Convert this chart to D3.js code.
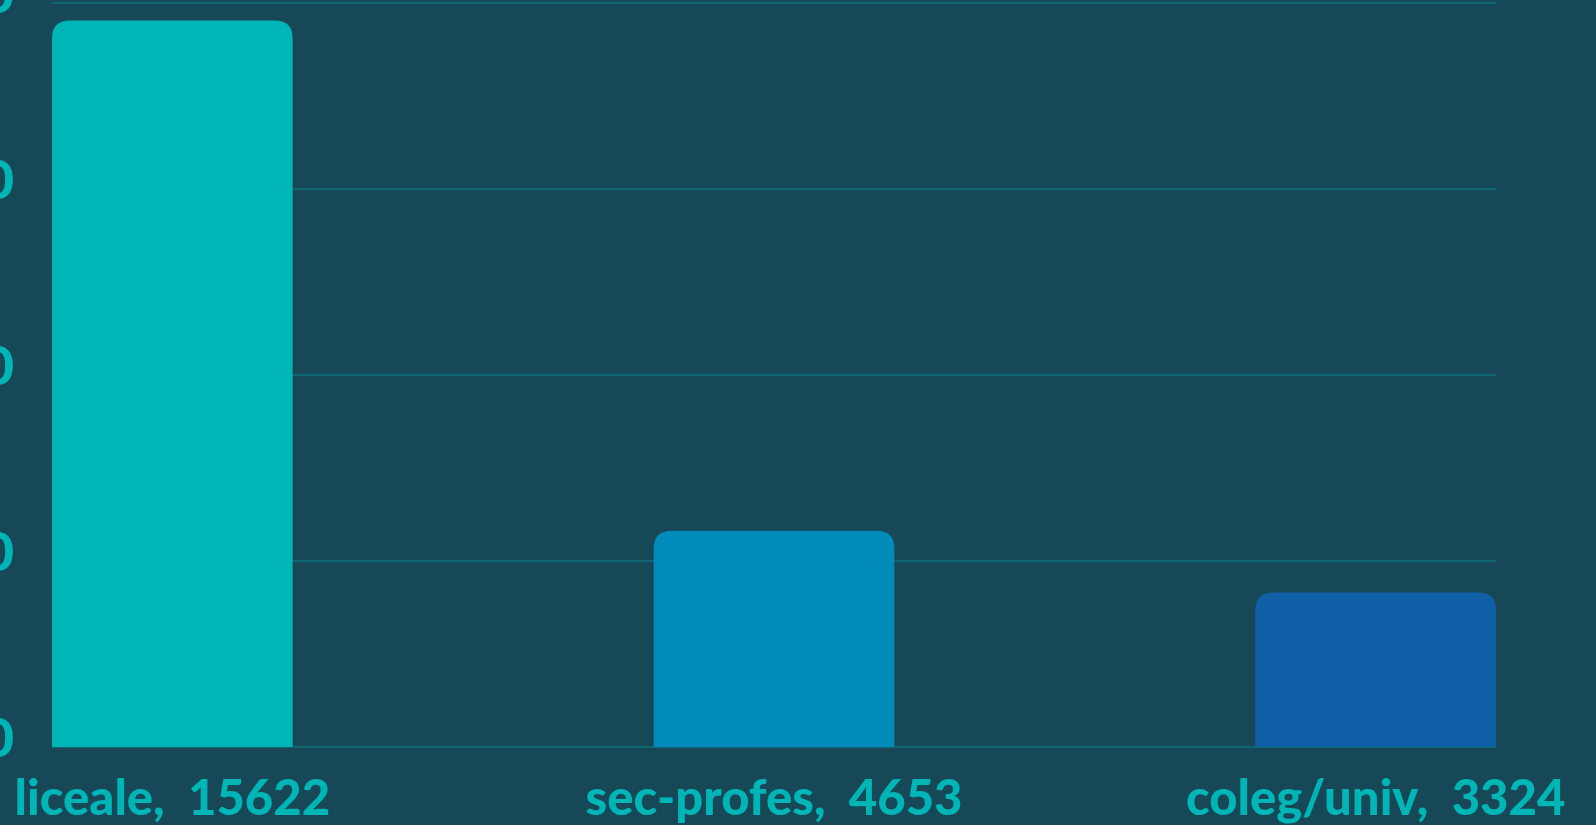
<!DOCTYPE html>
<meta charset="utf-8">
<style>
  body { margin: 0; background: #174857; }
  svg { display: block; }
  .grid line { stroke: #0f6673; stroke-width: 2px; }
  .label, .tick text {
    font-family: Lato, sans-serif;
    font-weight: 900;
    fill: #00b5b5;
  }
</style>
<svg width="1596" height="825"></svg>
<script src="https://cdn.jsdelivr.net/npm/d3@7"></script>
<script>
  const categories = ["liceale", "sec-profes", "coleg/univ"];
  const values = [15622, 4653, 3324];
  const colors = ["#00b5b5", "#008bbb", "#1060a8"];
  const yTicks = [0, 4000, 8000, 12000, 16000];

  const svg = d3.select("svg");

  const x = d3.scaleBand()
    .domain(categories)
    .range([52, 1496])
    .paddingInner(0.6)
    .paddingOuter(0);

  const y = d3.scaleLinear()
    .domain([0, 16000])
    .range([747, 3]);

  // gridlines
  svg.append("g")
    .attr("class", "grid")
    .selectAll("line")
    .data(yTicks)
    .enter()
    .append("line")
    .attr("x1", 52)
    .attr("x2", 1496)
    .attr("y1", d => y(d))
    .attr("y2", d => y(d));

  // y axis labels (mostly cut off at left edge, like the original)
  const yAxis = svg.append("g")
    .attr("transform", "translate(14,0)")
    .call(d3.axisLeft(y).tickValues(yTicks).tickSize(0).tickPadding(0));
  yAxis.select(".domain").remove();
  yAxis.selectAll("text")
    .attr("font-size", 54)
    .attr("dy", "0.18em");

  // bars with rounded top corners
  const r = 18;
  svg.selectAll(".bar")
    .data(values)
    .enter()
    .append("path")
    .attr("class", "bar")
    .attr("fill", (d, i) => colors[i])
    .attr("d", (d, i) => {
      const x0 = x(categories[i]), x1 = x0 + x.bandwidth();
      const y0 = y(0), y1 = y(d);
      return `M${x0},${y0}V${y1 + r}Q${x0},${y1} ${x0 + r},${y1}H${x1 - r}Q${x1},${y1} ${x1},${y1 + r}V${y0}Z`;
    });

  // category labels
  svg.selectAll(".label")
    .data(values)
    .enter()
    .append("text")
    .attr("class", "label")
    .attr("x", (d, i) => x(categories[i]) + x.bandwidth() / 2)
    .attr("y", 815)
    .attr("text-anchor", "middle")
    .attr("font-size", 49)
    .text((d, i) => categories[i] + ",  " + d)
    .style("white-space", "pre");
</script>
